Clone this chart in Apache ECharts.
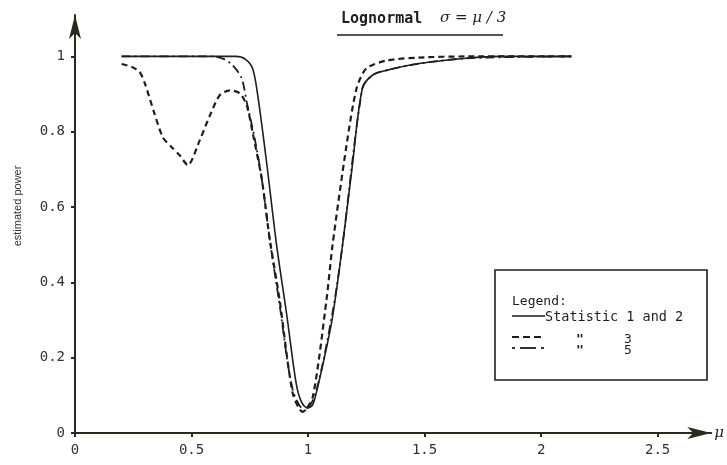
<!DOCTYPE html>
<html><head><meta charset="utf-8">
<script src="https://cdn.jsdelivr.net/npm/echarts@6/dist/echarts.min.js"></script>
<style>html,body{margin:0;padding:0;background:#fff}#c{width:727px;height:465px}</style>
</head><body><div id="c"></div>
<script>
// Statistic 1 and 2 (solid)
const xSolid = [0.2, 0.45, 0.69, 0.73, 0.762, 0.784, 0.822, 0.865, 0.908, 0.949, 0.972, 0.998, 1.019, 1.035, 1.07, 1.105, 1.148, 1.19, 1.233, 1.276, 1.336, 1.477, 1.68, 1.82, 2.13];
const ySolid = [1.0, 1.0, 1.0, 0.993, 0.968, 0.897, 0.719, 0.499, 0.316, 0.132, 0.082, 0.066, 0.074, 0.106, 0.2, 0.308, 0.499, 0.71, 0.915, 0.95, 0.963, 0.981, 0.995, 1.0, 1.0];
// Statistic 3 (dashed)
const x3 = [0.2, 0.245, 0.278, 0.3, 0.34, 0.377, 0.415, 0.45, 0.484, 0.535, 0.58, 0.621, 0.664, 0.707, 0.737, 0.762, 0.801, 0.835, 0.878, 0.934, 0.976, 1.02, 1.079, 1.105, 1.165, 1.208, 1.25, 1.336, 1.477, 1.68, 2.13];
const y3 = [0.98, 0.972, 0.958, 0.928, 0.85, 0.785, 0.759, 0.737, 0.711, 0.777, 0.845, 0.897, 0.91, 0.902, 0.87, 0.798, 0.676, 0.517, 0.353, 0.106, 0.056, 0.095, 0.353, 0.499, 0.764, 0.915, 0.968, 0.989, 0.997, 1.0, 1.0];
// Statistic 5 (dash-dot)
const x5 = [0.2, 0.591, 0.64, 0.677, 0.715, 0.737, 0.771, 0.801, 0.835, 0.878, 0.934, 0.985, 1.03, 1.105, 1.148, 1.233, 1.276, 1.336, 1.477, 1.68, 2.13];
const y5 = [1.0, 1.0, 0.993, 0.976, 0.942, 0.878, 0.782, 0.676, 0.517, 0.34, 0.115, 0.06, 0.1, 0.32, 0.5, 0.915, 0.95, 0.963, 0.981, 0.995, 1.0];

const xTicks = [0, 0.5, 1, 1.5, 2, 2.5];
const yTicks = [0, 0.2, 0.4, 0.6, 0.8, 1];
const xTickLabels = ['0', '0.5', '1', '1.5', '2', '2.5'];
const yTickLabels = ['0', '0.2', '0.4', '0.6', '0.8', '1'];

const ink = '#1e1e1e';
const axisInk = '#2a2a1c';
const mono = '"DejaVu Sans Mono", "Liberation Mono", monospace';

function pairs(xs, ys) { return xs.map((x, i) => [x, ys[i]]); }

const chart = echarts.init(document.getElementById('c'), null, {renderer: 'canvas'});
chart.setOption({
  backgroundColor: '#fff',
  animation: false,
  grid: {left: 75, right: 14, top: 15, bottom: 32, containLabel: false},
  xAxis: {
    type: 'value', min: 0, max: 2.73,
    name: 'μ', nameLocation: 'end', nameGap: 3,
    nameTextStyle: {fontFamily: 'DejaVu Serif, serif', fontStyle: 'italic', fontSize: 15, color: ink, verticalAlign: 'middle'},
    axisLine: {show: true, symbol: ['none', 'arrow'], symbolSize: [9, 24], lineStyle: {color: axisInk, width: 2}},
    axisTick: {show: true, inside: false, length: 4, customValues: xTicks, lineStyle: {color: axisInk, width: 2}},
    axisLabel: {customValues: xTicks, margin: 10, fontFamily: mono, fontSize: 14, color: '#333',
      formatter: v => xTickLabels[xTicks.indexOf(v)] ?? ''},
    splitLine: {show: false}
  },
  yAxis: {
    type: 'value', min: 0, max: 1.11,
    axisLine: {show: true, symbol: ['none', 'arrow'], symbolSize: [9, 24], lineStyle: {color: axisInk, width: 2}},
    axisTick: {show: true, inside: false, length: 4, customValues: yTicks, lineStyle: {color: axisInk, width: 2}},
    axisLabel: {customValues: yTicks, margin: 10, fontFamily: mono, fontSize: 14, color: '#333',
      formatter: v => yTickLabels[yTicks.findIndex(t => Math.abs(t - v) < 1e-9)] ?? ''},
    splitLine: {show: false}
  },
  series: [
    {name: 'Statistic 5', type: 'line', data: pairs(x5, y5), smooth: 0.3, symbol: 'none',
      lineStyle: {color: ink, width: 1.8, type: [9, 4, 2, 4]}},
    {name: 'Statistic 3', type: 'line', data: pairs(x3, y3), smooth: 0.25, symbol: 'none',
      lineStyle: {color: ink, width: 2.2, type: [6, 4]}},
    {name: 'Statistic 1 and 2', type: 'line', data: pairs(xSolid, ySolid), smooth: 0.3, symbol: 'none',
      lineStyle: {color: ink, width: 1.6}}
  ],
  graphic: [
    {type: 'text', x: 18, y: 206, rotation: Math.PI / 2,
      style: {text: 'estimated power', font: '11px "Liberation Sans", sans-serif', fill: '#333', align: 'center', verticalAlign: 'middle'}},
    {type: 'text', left: 341, top: 12, style: {text: 'Lognormal', font: 'bold 15px ' + mono, fill: ink}},
    {type: 'text', left: 440, top: 11, style: {text: 'σ = μ / 3', font: 'italic 15px "DejaVu Serif", serif', fill: ink}},
    {type: 'line', shape: {x1: 337, y1: 35, x2: 503, y2: 35}, style: {stroke: ink, lineWidth: 1.6}},
    {type: 'rect', shape: {x: 495, y: 270, width: 212, height: 110}, style: {fill: '#fff', stroke: ink, lineWidth: 1.6}},
    {type: 'text', x: 512, y: 302, style: {text: 'Legend:', font: '13px ' + mono, fill: ink, verticalAlign: 'middle'}},
    {type: 'line', shape: {x1: 512, y1: 316, x2: 545, y2: 316}, style: {stroke: ink, lineWidth: 1.6}},
    {type: 'text', x: 545, y: 317, style: {text: 'Statistic 1 and 2', font: '13.5px ' + mono, fill: ink, verticalAlign: 'middle'}},
    {type: 'line', shape: {x1: 512, y1: 337, x2: 543, y2: 337}, style: {stroke: ink, lineWidth: 2, lineDash: [7, 4]}},
    {type: 'text', x: 580, y: 340, style: {text: '"', font: 'bold 13px ' + mono, fill: ink, align: 'center', verticalAlign: 'middle'}},
    {type: 'text', x: 628, y: 340, style: {text: '3', font: '13px ' + mono, fill: ink, align: 'center', verticalAlign: 'middle'}},
    {type: 'line', shape: {x1: 512, y1: 348, x2: 515, y2: 348}, style: {stroke: ink, lineWidth: 1.8}},
    {type: 'line', shape: {x1: 520, y1: 348, x2: 536, y2: 348}, style: {stroke: ink, lineWidth: 1.8}},
    {type: 'line', shape: {x1: 541, y1: 348, x2: 544, y2: 348}, style: {stroke: ink, lineWidth: 1.8}},
    {type: 'text', x: 580, y: 351, style: {text: '"', font: 'bold 13px ' + mono, fill: ink, align: 'center', verticalAlign: 'middle'}},
    {type: 'text', x: 628, y: 351, style: {text: '5', font: '13px ' + mono, fill: ink, align: 'center', verticalAlign: 'middle'}}
  ]
});
</script>
</body></html>
